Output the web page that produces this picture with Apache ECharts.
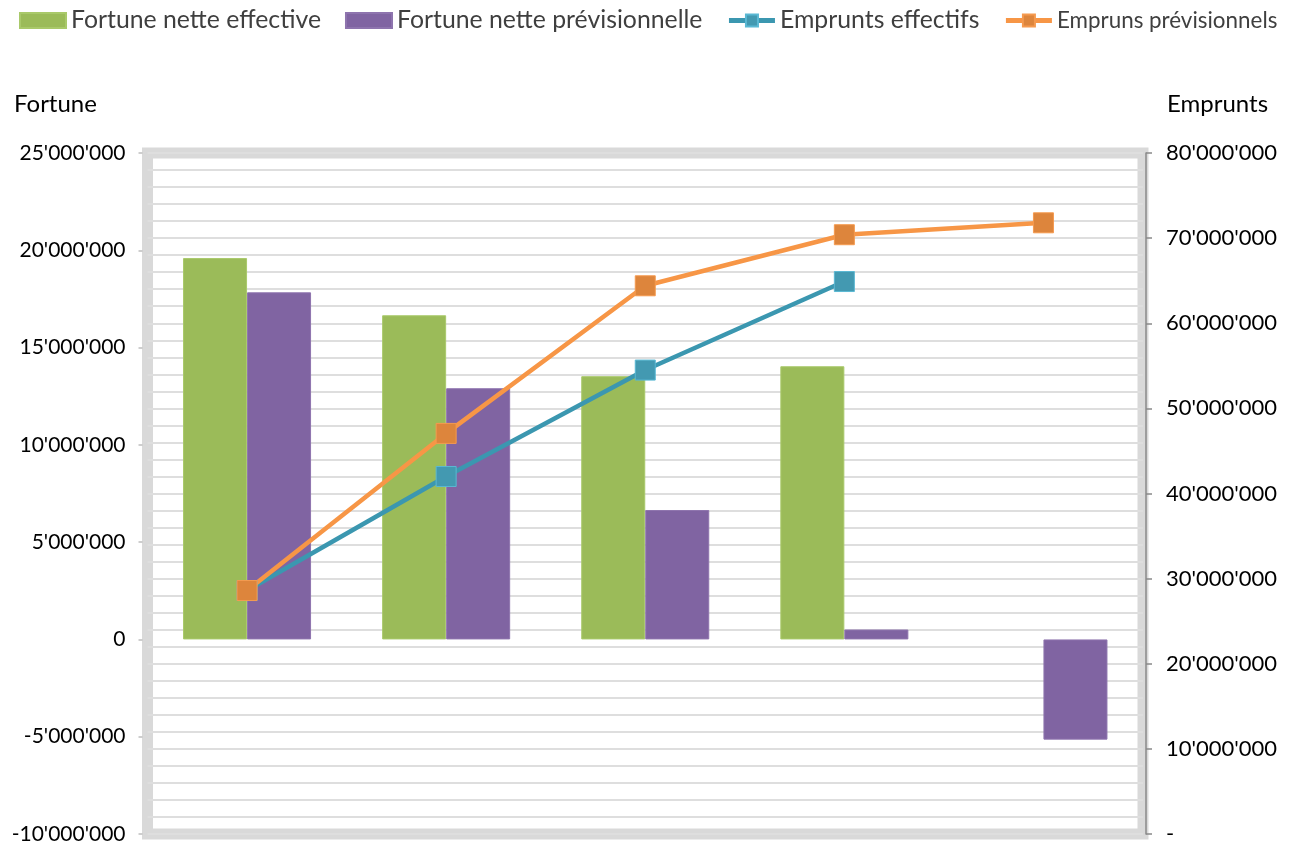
<!DOCTYPE html>
<html>
<head>
<meta charset="utf-8">
<script src="https://cdn.jsdelivr.net/npm/echarts@6/dist/echarts.min.js"></script>
<style>
html,body{margin:0;padding:0;background:#fff;}
#chart{width:1302px;height:845px;}
</style>
</head>
<body>
<div id="chart"></div>
<script>
// ---- data ----
const categories = ['1', '2', '3', '4', '5'];
const fortuneEffective = [19600000, 16660000, 13530000, 14040000, null];
const fortunePrevisionnelle = [17840000, 12910000, 6650000, 510000, -5150000];
const empruntsEffectifs = [28600000, 42000000, 54500000, 64900000, null];
const emprunsPrevisionnels = [28600000, 47060000, 64400000, 70400000, 71800000];
const seriesNames = ['Fortune nette effective', 'Fortune nette prévisionnelle', 'Emprunts effectifs', 'Empruns prévisionnels'];
const axisNames = ['Fortune', 'Emprunts'];
const fortuneAxis = { min: -10000000, max: 25000000, interval: 5000000 };
const empruntsAxis = { min: 0, max: 80000000, interval: 10000000 };

function fmt(v) {
  const s = String(Math.abs(Math.round(v))).replace(/\B(?=(\d{3})+(?!\d))/g, "'");
  return (v < 0 ? '-' : '') + s;
}

const FONT = 'Lato';
const chart = echarts.init(document.getElementById('chart'));
chart.setOption({
  animation: false,
  backgroundColor: '#ffffff',
  textStyle: { fontFamily: FONT, color: '#000' },
  title: [
    { text: axisNames[0], left: 14, top: 92, padding: 0, textStyle: { fontFamily: FONT, fontSize: 24, fontWeight: 'normal', color: '#000' } },
    { text: axisNames[1], left: 1167, top: 92, padding: 0, textStyle: { fontFamily: FONT, fontSize: 24, fontWeight: 'normal', color: '#000' } }
  ],
  legend: {
    left: 19, top: 8, width: 1290, padding: 0, itemGap: 24, itemWidth: 46, itemHeight: 15,
    textStyle: { fontFamily: FONT, fontSize: 24.8, color: '#3f3f3f' },
    data: [
      { name: seriesNames[0], icon: 'rect' },
      { name: seriesNames[1], icon: 'rect' },
      { name: seriesNames[2], lineStyle: { width: 5 } },
      { name: seriesNames[3], lineStyle: { width: 5 }, textStyle: { fontSize: 22.4 } }
    ]
  },
  grid: {
    left: 147.5, right: 1302 - 1143, top: 153, bottom: 845 - 836,
    show: true, borderColor: '#d9d9d9', borderWidth: 11, backgroundColor: 'transparent'
  },
  xAxis: {
    type: 'category', data: categories,
    axisLine: { show: false }, axisTick: { show: false }, axisLabel: { show: false },
    splitLine: { show: false }
  },
  yAxis: [
    {
      type: 'value', position: 'left', min: fortuneAxis.min, max: fortuneAxis.max, interval: fortuneAxis.interval,
      offset: 5,
      axisLine: { show: false },
      axisTick: { show: true, length: 4, lineStyle: { color: '#bfbfbf', width: 1.5 } },
      axisLabel: { margin: 17, fontFamily: FONT, fontSize: 21, color: '#000', formatter: fmt },
      splitLine: { show: false }
    },
    {
      type: 'value', position: 'right', min: empruntsAxis.min, max: empruntsAxis.max, interval: empruntsAxis.interval,
      offset: 3,
      axisLine: { show: true, lineStyle: { color: '#898989', width: 1.5 } },
      axisTick: { show: true, length: 6, lineStyle: { color: '#898989', width: 1.5 } },
      axisLabel: { margin: 20, fontFamily: FONT, fontSize: 22, color: '#000', formatter: v => v === 0 ? '-' : fmt(v) },
      splitLine: { show: true, lineStyle: { color: '#dedede', width: 2 } },
      minorTick: { show: false, splitNumber: 5 },
      minorSplitLine: { show: true, lineStyle: { color: '#dedede', width: 2 } }
    }
  ],
  series: [
    {
      name: seriesNames[0], type: 'bar', yAxisIndex: 0, data: fortuneEffective,
      barGap: '0%', barCategoryGap: '35.7%',
      itemStyle: { color: '#9bbb59', borderColor: '#a9c96a', borderWidth: 1 }
    },
    {
      name: seriesNames[1], type: 'bar', yAxisIndex: 0, data: fortunePrevisionnelle,
      barGap: '0%', barCategoryGap: '35.7%',
      itemStyle: { color: '#8064a2', borderColor: '#8e74ae', borderWidth: 1 }
    },
    {
      name: seriesNames[2], type: 'line', yAxisIndex: 1, data: empruntsEffectifs,
      symbol: 'rect', symbolSize: 20,
      lineStyle: { color: '#3b97b0', width: 4.5 },
      itemStyle: { color: '#4399b1', borderColor: '#5ab8d3', borderWidth: 1 }
    },
    {
      name: seriesNames[3], type: 'line', yAxisIndex: 1, data: emprunsPrevisionnels,
      symbol: 'rect', symbolSize: 20,
      lineStyle: { color: '#f79646', width: 4.5 },
      itemStyle: { color: '#dd853c', borderColor: '#f59a4f', borderWidth: 1 }
    }
  ]
});
</script>
</body>
</html>
